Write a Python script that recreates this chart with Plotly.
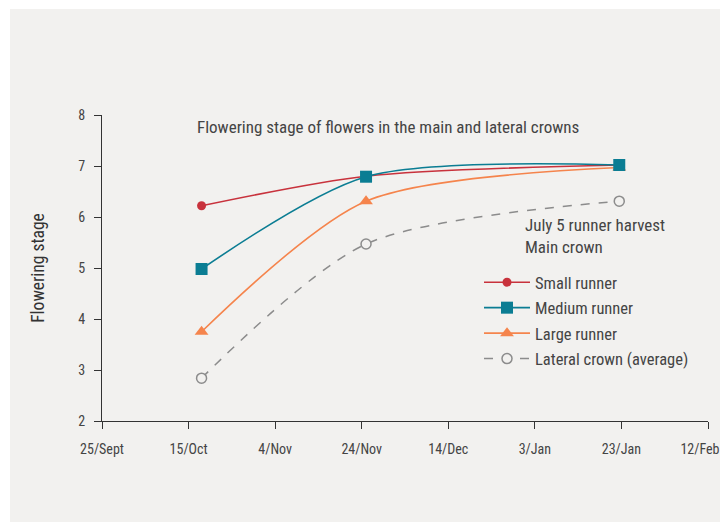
import plotly.graph_objects as go

# Days since 25 Sept
x_days = [23, 61, 119.5]
tick_days = [0, 20, 40, 60, 80, 100, 120, 140]
tick_labels = ["25/Sept", "15/Oct", "4/Nov", "24/Nov", "14/Dec", "3/Jan", "23/Jan", "12/Feb"]

small_runner = [6.22, 6.8, 7.02]
medium_runner = [4.98, 6.79, 7.02]
large_runner = [3.75, 6.31, 6.97]
lateral_crown = [2.84, 5.47, 6.31]

FONT = "Liberation Sans Narrow, Roboto Condensed, Roboto, Arial"
BG = "#f2f1ef"
W, H = 720, 522
L, R, T, B = 102, 12, 115, 101

# keep the last label inside the page edge (it sits at the right end of the axis)
tick_text = tick_labels[:-1] + [tick_labels[-1] + "\u00a0" * 5]

fig = go.Figure()

fig.add_trace(go.Scatter(
    x=x_days, y=lateral_crown, name="Lateral crown (average)", mode="lines+markers",
    legendrank=4, legendgroup="d",
    line=dict(color="#8c8c8c", width=1.5, dash="dash", shape="spline", smoothing=0.8),
    marker=dict(symbol="circle", size=10, color=BG, line=dict(width=1.5, color="#8c8c8c")),
))
fig.add_trace(go.Scatter(
    x=x_days, y=large_runner, name="Large runner", mode="lines+markers",
    legendrank=3, legendgroup="c",
    line=dict(color="#f5844c", width=1.6, shape="spline", smoothing=0.8),
    marker=dict(symbol="triangle-up", size=12, color="#f5844c"),
))
fig.add_trace(go.Scatter(
    x=x_days, y=small_runner, name="Small runner", mode="lines+markers",
    legendrank=1, legendgroup="a",
    line=dict(color="#c8323c", width=1.6, shape="spline", smoothing=0.8),
    marker=dict(symbol="circle", size=9, color="#c8323c"),
))
fig.add_trace(go.Scatter(
    x=x_days, y=medium_runner, name="Medium runner", mode="lines+markers",
    legendrank=2, legendgroup="b",
    line=dict(color="#0b7d93", width=1.6, shape="spline", smoothing=0.8),
    marker=dict(symbol="square", size=12, color="#0b7d93"),
))

pw = W - L - R
ph = H - T - B

def px_x(p):
    return (p - L) / pw

def px_y(p):
    return (H - B - p) / ph

fig.update_layout(
    width=W, height=H,
    margin=dict(l=L, r=R, t=T, b=B, autoexpand=False),
    paper_bgcolor=BG, plot_bgcolor=BG,
    font=dict(family=FONT, size=14, color="#444444"),
    showlegend=True,
    legend=dict(
        x=px_x(479), y=px_y(265), xanchor="left", yanchor="top",
        bgcolor="rgba(0,0,0,0)", font=dict(size=16.5, color="#444444"),
        traceorder="grouped", itemwidth=46, tracegroupgap=1,
    ),
    xaxis=dict(
        range=[0, 140], tickvals=tick_days, ticktext=tick_text,
        showgrid=False, zeroline=False, showline=True, linecolor="#333333", linewidth=1.3,
        ticks="outside", ticklen=7, tickwidth=1.3, tickcolor="#333333",
        tickfont=dict(size=14, color="#444444"), ticklabelstandoff=8,
        ticklabeloverflow="allow", automargin=False,
    ),
    yaxis=dict(
        range=[2, 8], dtick=1, showgrid=False, zeroline=False,
        showline=True, linecolor="#333333", linewidth=1.3,
        ticks="outside", ticklen=7, tickwidth=1.3, tickcolor="#333333",
        tickfont=dict(size=14, color="#444444"), ticklabelstandoff=6, automargin=False,
        title=dict(text="Flowering stage", font=dict(size=17.5, color="#333333"), standoff=29),
    ),
    shapes=[
        dict(type="rect", xref="paper", yref="paper", x0=px_x(0), x1=px_x(720), y0=px_y(0), y1=px_y(9),
             fillcolor="white", line=dict(width=0), layer="below"),
        dict(type="rect", xref="paper", yref="paper", x0=px_x(0), x1=px_x(10), y0=px_y(0), y1=px_y(522),
             fillcolor="white", line=dict(width=0), layer="below"),
    ],
    annotations=[
        dict(text="Flowering stage of flowers in the main and lateral crowns", xref="paper", yref="paper",
             x=px_x(195), y=px_y(127), xanchor="left", yanchor="middle", showarrow=False,
             font=dict(size=17, color="#444444")),
        dict(text="July 5 runner harvest<br>Main crown", xref="paper", yref="paper",
             x=px_x(523), y=px_y(236), xanchor="left", yanchor="middle", showarrow=False, align="left",
             font=dict(size=17, color="#444444")),
    ],
)

fig.write_html(
    "out.html",
    config={"displayModeBar": False},
    post_script="document.body.style.margin='0';document.body.style.overflow='hidden';",
)
